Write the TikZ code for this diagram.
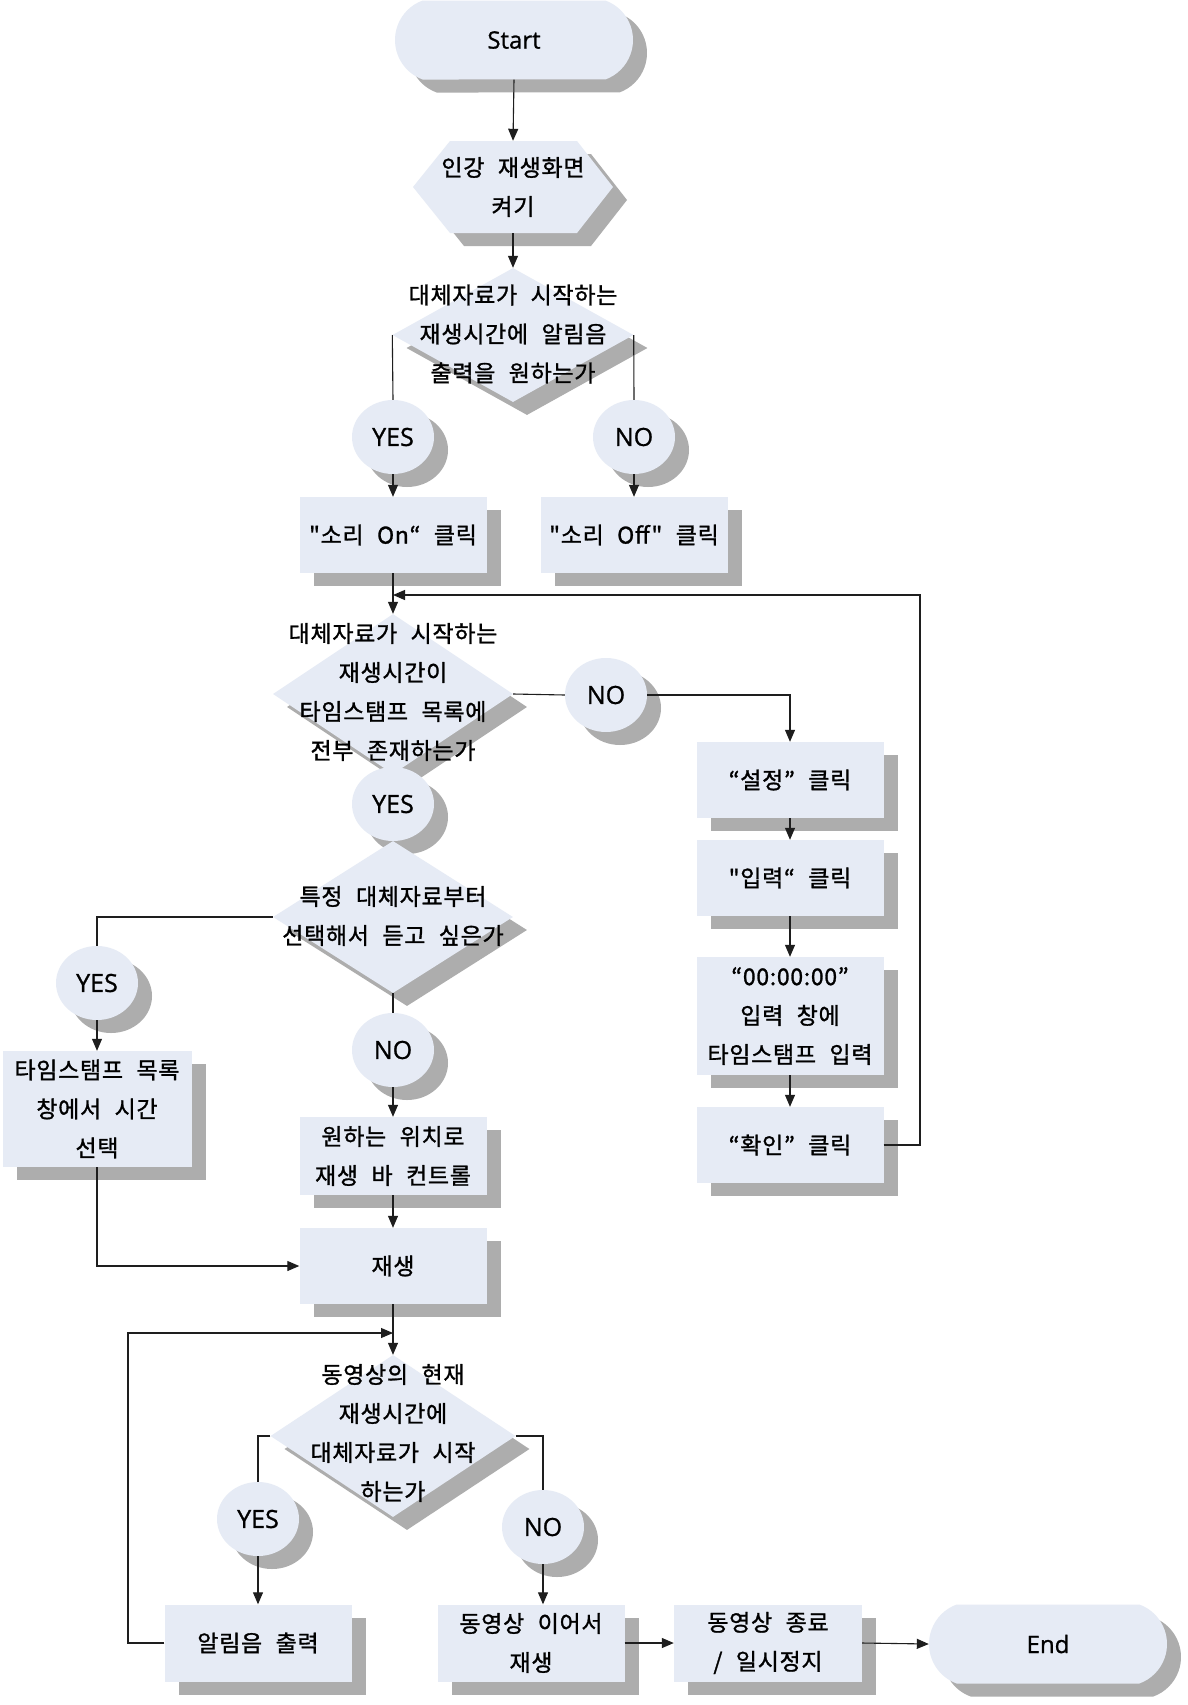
\documentclass[tikz,border=0pt]{standalone}
\usepackage{fontspec}
\setmainfont{Noto Sans CJK KR}[LetterSpace=3,WordSpace=2.3,Ligatures=TeXOff,FakeBold=1.2]
\newfontfamily\enfont{Open Sans}[FakeBold=1]
\usetikzlibrary{shapes.geometric,shapes.misc,shadows,arrows.meta}
\definecolor{boxfill}{HTML}{E6EBF5}
\definecolor{shadec}{HTML}{ADADAD}
\definecolor{lnc}{HTML}{1E1E1E}
\newcommand\kfont{\fontsize{23}{39}\selectfont}
\begin{document}
\begin{tikzpicture}[x=1pt,y=-1pt,
  shad/.style={drop shadow={shadow xshift=14pt,shadow yshift=-13pt,fill=shadec,opacity=1}},
  proc/.style={rectangle,fill=boxfill,shad,minimum width=187pt,minimum height=76pt,inner sep=0pt,align=center,font=\kfont},
  term/.style={rounded rectangle,rounded rectangle arc length=140,fill=boxfill,shad,minimum width=238pt,minimum height=79pt,inner sep=0pt,font=\enfont\fontsize{24}{28}\selectfont},
  dec/.style={diamond,fill=boxfill,shad,inner sep=0pt},
  lab/.style={ellipse,fill=boxfill,shad,minimum width=82pt,minimum height=74pt,inner sep=0pt,font=\enfont\fontsize{25}{28}\selectfont},
  txt/.style={align=center,font=\kfont,inner sep=0pt},
  conn/.style={draw=lnc,line width=1.1pt},
  arr/.style={conn,-{Triangle[length=12pt,width=10pt]}}
]
\fill[white] (0,0) rectangle (1187,1705);
\useasboundingbox (0,0) rectangle (1187,1705);

% top
\node[term] (start) at (514,40) {Start};
\path[fill=boxfill,shad] (413,187) -- (450,141) -- (577,141) -- (613,187) -- (577,233) -- (450,233) -- cycle;
\node[txt,minimum width=200pt,minimum height=92pt] (hex) at (513,187) {인강 재생화면\\켜기};

% decision 1
\node[dec,minimum width=241pt,minimum height=134pt] (d1) at (513,335) {};
\node[txt] (d1t) at (513,334) {대체자료가 시작하는\\재생시간에 알림음\\출력을 원하는가};
\node[lab] (yes1) at (393,437) {YES};
\node[lab] (no1) at (634,437) {NO};
\node[proc] (on) at (393,535) {"소리 On“ 클릭};
\node[proc] (off) at (634,535) {"소리 Off" 클릭};

% decision 2
\node[dec,minimum width=240pt,minimum height=160pt] (d2) at (393,694) {};
\node[txt] (d2t) at (393,692) {대체자료가 시작하는\\재생시간이\\타임스탬프 목록에\\전부 존재하는가};
\node[lab] (no2) at (606,695) {NO};
\node[lab] (yes2) at (393,804) {YES};

% right column
\node[proc] (set) at (790,780) {“설정” 클릭};
\node[proc] (inp) at (790,878) {"입력“ 클릭};
\node[proc,minimum height=118pt] (tim) at (790,1016) {“00:00:00”\\입력 창에\\타임스탬프 입력};
\node[proc] (ok) at (790,1145) {“확인” 클릭};

% decision 3
\node[dec,minimum width=240pt,minimum height=152pt] (d3) at (393,917) {};
\node[txt] (d3t) at (393,916) {특정 대체자료부터\\선택해서 듣고 싶은가};
\node[lab] (yes3) at (97,983) {YES};
\node[lab] (no3) at (393,1050) {NO};
\node[proc,minimum width=189pt,minimum height=116pt] (ts) at (97,1109) {타임스탬프 목록\\창에서 시간\\선택};
\node[proc,minimum height=78pt] (want) at (393,1156) {원하는 위치로\\재생 바 컨트롤};
\node[proc] (play) at (393,1266) {재생};

% decision 4
\node[dec,minimum width=245pt,minimum height=162pt] (d4) at (393,1436) {};
\node[txt] (d4t) at (393,1433) {동영상의 현재\\재생시간에\\대체자료가 시작\\하는가};
\node[lab] (yes4) at (258,1519) {YES};
\node[lab] (no4) at (543,1527) {NO};
\node[proc,minimum height=77pt] (alarm) at (258,1643) {알림음 출력};
\node[proc,minimum height=77pt] (cont) at (531,1643) {동영상 이어서\\재생};
\node[proc,minimum width=188pt,minimum height=77pt] (stop) at (768,1643) {동영상 종료\\/ 일시정지};
\node[term] (end) at (1048,1644) {End};

% coordinates
\coordinate (fb1) at (920,595);
\coordinate (fbend) at (393,595);
\coordinate (lp) at (128,1333);
\coordinate (lpend) at (393,1333);

% connectors
\draw[arr] (start.south) -- (hex.north);
\draw[arr] (hex.south) -- (d1.north);
\draw[conn] (d1.west) -- (yes1.north);
\draw[conn] (d1.east) -- (no1.north);
\draw[arr] (yes1.south) -- (on.north);
\draw[arr] (no1.south) -- (off.north);
\draw[arr] (on.south) -- (d2.north);
\draw[conn] (d2.east) -- (no2.west);
\draw[arr] (no2.east) -| (set.north);
\draw[arr] (set.south) -- (inp.north);
\draw[arr] (inp.south) -- (tim.north);
\draw[arr] (tim.south) -- (ok.north);
\draw[arr] (ok.east) -| (fb1) -- (fbend);
\draw[conn] (d3.west) -| (yes3.north);
\draw[arr] (yes3.south) -- (ts.north);
\draw[conn] (d3.south) -- (no3.north);
\draw[arr] (no3.south) -- (want.north);
\draw[arr] (want.south) -- (play.north);
\draw[arr] (ts.south) |- (play.west);
\draw[arr] (play.south) -- (d4.north);
\draw[conn] (d4.west) -| (yes4.north);
\draw[arr] (yes4.south) -- (alarm.north);
\draw[conn] (d4.east) -| (no4.north);
\draw[arr] (no4.south) -- (no4.south |- cont.north);
\draw[arr] (alarm.west) -| (lp) -- (lpend);
\draw[arr] (cont.east) -- (stop.west);
\draw[arr] (stop.east) -- (end.west);
\end{tikzpicture}
\end{document}
